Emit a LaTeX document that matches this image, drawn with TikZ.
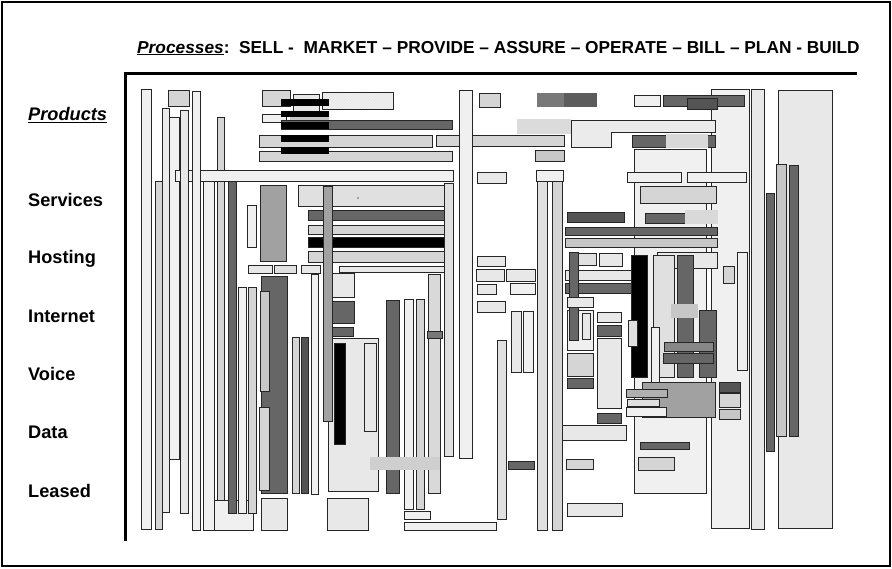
\documentclass[tikz,border=0pt]{standalone}
\usepackage{fontspec}
\setmainfont{Liberation Sans}
\usetikzlibrary{patterns}
\definecolor{cF0}{gray}{0.94}
\definecolor{cEB}{gray}{0.92}
\definecolor{cE8}{gray}{0.91}
\definecolor{cE0}{gray}{0.88}
\definecolor{cDD}{gray}{0.86}
\definecolor{cD8}{gray}{0.85}
\definecolor{cD5}{gray}{0.835}
\definecolor{cD0}{gray}{0.81}
\definecolor{cC8}{gray}{0.78}
\definecolor{cB0}{gray}{0.69}
\definecolor{cA0}{gray}{0.63}
\definecolor{c88}{gray}{0.53}
\definecolor{c77}{gray}{0.47}
\definecolor{c66}{gray}{0.40}
\definecolor{c5A}{gray}{0.36}
\definecolor{c55}{gray}{0.33}
\tikzset{bxs/.style={draw=black!85,line width=0.8pt},
  lbl/.style={font=\bfseries\fontsize{18.2}{21}\selectfont,anchor=west,inner sep=0pt}}
\newcommand\bx[5]{\draw[bxs,fill=#5] (#1,#2) rectangle (#3,#4);}
\newcommand\patch[5]{\fill[#5] (#1,#2) rectangle (#3,#4);}
\begin{document}
\begin{tikzpicture}[x=1pt,y=-1pt]
\useasboundingbox (0,0) rectangle (892,568);
\fill[white] (0,0) rectangle (892,568);
% big right boxes
\bx{711}{89}{749}{528}{cF0}
\bx{778}{90}{832}{528}{cE8}
\bx{751}{89}{764}{529}{cE8}
\bx{776}{164}{786}{436}{cC8}
\bx{789}{165}{798}{436}{c66}
\bx{766}{193}{774}{451}{c66}
\bx{634}{149}{706}{493}{cF0}
% top right
\bx{634}{95}{660}{106}{cF0}
\bx{663}{95}{744}{106}{c66}
\bx{687}{98}{717}{109}{c55}
\patch{517}{119}{571}{134}{cDD}
\draw[bxs,fill=cEB] (571,120) -- (715,120) -- (715,132) -- (611,132) -- (611,147) -- (571,147) -- cycle;
\bx{632}{135}{715}{147}{c66}
\patch{666}{134}{708}{148}{cD8}
\bx{627}{172}{681}{182}{cF0}
\bx{687}{172}{746}{182}{cF0}
\bx{640}{186}{716}{203}{cD5}
\bx{567}{212}{624}{222}{c55}
\bx{645}{213}{717}{223}{c66}
\patch{685}{210}{718}{224}{cD8}
\bx{565}{227}{717}{235}{c66}
\bx{565}{238}{717}{247}{cC8}
\bx{657}{252}{717}{268}{cE8}
\bx{723}{266}{734}{283}{cD5}
\bx{737}{252}{747}{370}{cF0}
% middle right cluster
\bx{578}{253}{596}{265}{cE0}
\bx{599}{253}{622}{266}{cE8}
\bx{565}{270}{638}{280}{cE8}
\bx{565}{283}{638}{293}{c66}
\bx{567}{310}{593}{350}{cF0}
\bx{582}{313}{590}{339}{cE8}
\bx{569}{252}{578}{340}{c66}
\bx{567}{297}{593}{307}{cE8}
\bx{597}{312}{621}{322}{cE8}
\bx{597}{325}{621}{336}{c66}
\bx{597}{338}{621}{408}{cE8}
\bx{597}{413}{621}{423}{c66}
\bx{567}{353}{593}{376}{cD5}
\bx{567}{378}{593}{388}{c66}
\bx{631}{255}{647}{377}{black}
\bx{628}{320}{637}{346}{cE0}
\bx{653}{255}{674}{377}{cE0}
\bx{677}{255}{693}{377}{c66}
\patch{671}{304}{698}{318}{cC8}
\bx{699}{310}{716}{377}{c66}
\bx{651}{327}{659}{387}{cF0}
\bx{664}{342}{713}{351}{c88}
\bx{663}{353}{713}{363}{c66}
\bx{642}{382}{715}{417}{cA0}
\bx{626}{389}{667}{397}{cB0}
\bx{627}{399}{659}{406}{cE0}
\bx{626}{407}{666}{416}{cF0}
\bx{719}{382}{740}{392}{c55}
\bx{719}{393}{740}{407}{cD5}
\bx{719}{409}{740}{419}{cC8}
\bx{640}{442}{689}{449}{c66}
\bx{638}{457}{674}{470}{cD5}
% middle columns
\bx{537}{181}{547}{530}{cE0}
\bx{552}{181}{562}{530}{cD5}
\bx{536}{170}{563}{181}{cF0}
\bx{535}{150}{564}{161}{cC8}
\bx{562}{425}{626}{440}{cE8}
\bx{566}{459}{593}{469}{cD5}
\bx{567}{503}{622}{516}{cE8}
\bx{477}{172}{506}{183}{cE8}
\bx{477}{256}{505}{266}{cE8}
\bx{476}{269}{504}{281}{cE8}
\bx{506}{269}{535}{281}{cE8}
\bx{477}{284}{496}{294}{cE8}
\bx{510}{283}{535}{294}{cF0}
\bx{477}{301}{505}{312}{cE8}
\bx{511}{311}{521}{372}{cE8}
\bx{523}{311}{533}{372}{cF0}
\bx{497}{340}{506}{519}{cE0}
\bx{508}{461}{534}{469}{c66}
\bx{479}{93}{500}{107}{cD5}
\patch{537}{93}{564}{107}{c77}
\patch{564}{93}{597}{107}{c5A}
% top middle
\bx{262}{90}{290}{106}{cD5}
\bx{293}{94}{319}{111}{cE8}
\bx{322}{92}{393}{109}{cF0}
\fill[pattern=north east lines,pattern color=black!10] (323,93) rectangle (392,108);
\bx{262}{114}{286}{122}{cF0}
\patch{290}{117}{329}{123}{cC8}
\bx{281}{120}{452}{129}{c66}
\bx{259}{135}{432}{147}{cD5}
\bx{436}{135}{564}{146}{cD5}
\bx{259}{151}{452}{161}{cD5}
\foreach \a/\b in {99/106,111/117,122/129,135/142,147/154}
  \fill[black] (281,\a) rectangle (329,\b);
% left columns
\bx{141}{89}{151}{529}{cF0}
\bx{168}{90}{189}{106}{cD5}
\bx{162}{108}{169}{512}{cEB}
\bx{155}{181}{162}{529}{cD5}
\bx{169}{117}{179}{459}{cF0}
\bx{217}{117}{224}{513}{cD5}
\bx{175}{170}{453}{181}{cF0}
\bx{180}{110}{188}{513}{cE8}
\bx{192}{91}{200}{530}{cF0}
\bx{203}{500}{253}{530}{cF0}
\bx{203}{181}{214}{530}{cF0}
\bx{228}{181}{236}{513}{c66}
\bx{238}{287}{246}{513}{cF0}
\bx{248}{287}{256}{513}{cD5}
\bx{247}{205}{256}{247}{cF0}
\bx{260}{185}{286}{261}{cA0}
\bx{248}{265}{272}{273}{cE8}
\bx{274}{265}{296}{273}{cE0}
\bx{301}{265}{320}{273}{cE8}
\bx{298}{185}{445}{206}{cE0}
\fill[black!60] (358,198) circle (0.8);
\bx{308}{210}{445}{220}{c66}
\bx{308}{225}{445}{234}{cD5}
\bx{308}{237}{445}{247}{black}
\bx{308}{251}{445}{262}{cD5}
\bx{339}{266}{445}{272}{cE8}
\bx{261}{276}{287}{493}{c66}
\bx{260}{291}{269}{391}{cC8}
\bx{259}{407}{269}{490}{cD5}
\bx{261}{498}{287}{530}{cE8}
\bx{292}{337}{299}{493}{cD5}
\bx{301}{337}{308}{493}{c55}
\bx{311}{274}{318}{494}{cF0}
\bx{332}{273}{354}{297}{cE8}
\bx{332}{301}{354}{323}{c66}
\bx{332}{327}{353}{336}{c66}
\bx{328}{338}{378}{491}{cE8}
\bx{323}{186}{332}{421}{cA0}
\bx{334}{343}{345}{444}{black}
\bx{364}{343}{376}{431}{cE8}
\bx{386}{300}{399}{493}{c66}
\bx{404}{299}{413}{509}{cF0}
\bx{416}{299}{424}{509}{cD5}
\bx{428}{274}{440}{493}{cD8}
\bx{427}{331}{442}{338}{c77}
\patch{370}{457}{440}{470}{cD0}
\bx{444}{183}{453}{456}{cE0}
\bx{459}{90}{472}{458}{cF0}
\bx{404}{511}{430}{519}{cF0}
\bx{404}{522}{496}{530}{cF0}
\bx{327}{498}{368}{530}{cE8}
% axes and frame
\draw[line width=3pt] (125,541) -- (125,73) -- (857,73);
\draw[line width=2pt] (2,2) rectangle (890,566);
% title
\node[anchor=base west,inner sep=0pt,font=\bfseries\fontsize{17.3}{20}\selectfont] (title) at (137,53)
 {\underline{\textit{Processes}}:\ \ SELL -\ \ MARKET – PROVIDE – ASSURE – OPERATE – BILL – PLAN - BUILD};
% product labels
\node[lbl] (products) at (28,115) {\underline{\textit{Products}}};
\node[lbl] (services) at (28,200) {Services};
\node[lbl] (hosting) at (28,259) {Hosting};
\node[lbl] (internet) at (28,316) {Internet};
\node[lbl] (voice) at (28,374) {Voice};
\node[lbl] (data) at (28,432) {Data};
\node[lbl] (leased) at (28,491) {Leased};
\end{tikzpicture}
\end{document}
